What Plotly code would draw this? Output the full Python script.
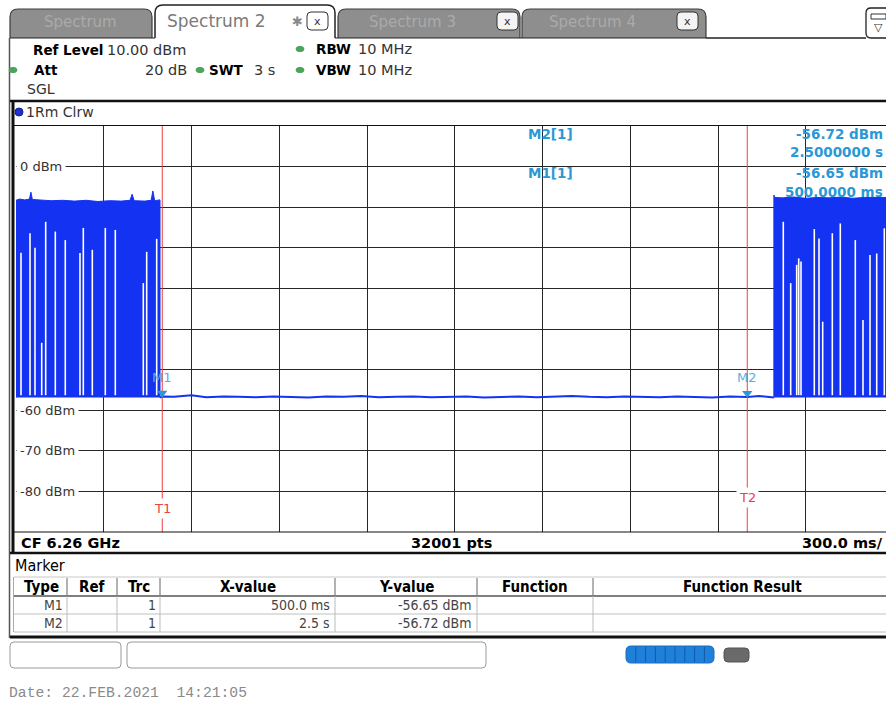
import plotly.graph_objects as go

# ---------------- data ----------------
sweep_div_s = 0.3            # 300.0 ms / div, 10 divisions
ref_level_dbm = 10.0
bottom_level_dbm = -90.0
level_div_db = 10.0

burst1_t = [0.0, 0.012, 0.030, 0.046, 0.051, 0.056, 0.085, 0.120, 0.160, 0.200, 0.240,
            0.280, 0.320, 0.360, 0.390, 0.397, 0.404, 0.440, 0.462, 0.468, 0.474, 0.4923]
burst1_top_dbm = [-8.3, -8.0, -8.2, -8.0, -6.3, -8.1, -8.2, -8.4, -8.3, -8.5, -8.3,
                  -8.6, -8.4, -8.5, -8.3, -6.8, -8.4, -8.5, -8.3, -6.0, -8.4, -8.2]
burst2_t = [2.591, 2.594, 2.620, 2.660, 2.700, 2.740, 2.780, 2.820, 2.860, 2.900, 2.940, 2.975]
burst2_top_dbm = [-7.0, -7.6, -7.7, -7.5, -7.8, -7.6, -7.7, -7.5, -7.8, -7.6, -7.7, -7.6]
burst_floor_dbm = -56.9

gap1_t = [0.0171, 0.0479, 0.0650, 0.0879, 0.1015, 0.1344, 0.1685, 0.2188, 0.2301, 0.2609,
          0.3053, 0.3395, 0.4352, 0.4468, 0.4810]
gap1_top_dbm = [-21.2, -16.4, -20.0, -43.4, -13.6, -16.0, -18.1, -21.3, -15.1, -20.5,
                -15.1, -15.6, -28.7, -21.0, -17.8]
gap2_t = [2.6232, 2.6485, 2.6690, 2.6759, 2.6838, 2.7292, 2.7453, 2.7579, 2.7908, 2.8181,
          2.8694, 2.8957, 2.9197, 2.9426, 2.9685]
gap2_top_dbm = [-13.6, -28.7, -24.2, -22.6, -23.4, -15.4, -17.7, -38.2, -16.4, -14.0,
                -18.1, -37.8, -21.8, -21.4, -15.2]

noise_t = [0.4923, 0.500, 0.540, 0.600, 0.650, 0.710, 0.760, 0.820, 0.880, 0.940,
           1.000, 1.060, 1.120, 1.180, 1.240, 1.300, 1.360, 1.420, 1.480, 1.540,
           1.600, 1.660, 1.720, 1.780, 1.840, 1.900, 1.960, 2.020, 2.080, 2.140,
           2.200, 2.260, 2.320, 2.380, 2.440, 2.500, 2.540, 2.570, 2.591]
noise_dbm = [-56.9, -56.65, -56.7, -56.3, -56.8, -56.6, -56.7, -56.8, -56.6, -56.7,
             -56.9, -56.6, -56.7, -56.5, -56.8, -56.7, -56.6, -56.8, -56.7, -56.6,
             -56.9, -56.7, -56.6, -56.8, -56.7, -56.5, -56.7, -56.8, -56.6, -56.7,
             -56.8, -56.6, -56.7, -56.9, -56.6, -56.72, -56.5, -56.7, -56.9]

marker_names = ["M1", "M2"]
marker_trc = ["1", "1"]
marker_t = [0.5, 2.5]
marker_dbm = [-56.65, -56.72]
marker_x_text = ["500.0 ms", "2.5 s"]
marker_info_time = ["500.0000 ms", "2.5000000 s"]
line_names = ["T1", "T2"]
line_label_dbm = [-84.3, -81.4]

y_label_vals = [0, -60, -70, -80]
y_label_text = ["0 dBm", "-60 dBm", "-70 dBm", "-80 dBm"]

table_headers = ["Type", "Ref", "Trc", "X-value", "Y-value", "Function", "Function Result"]

# ---------------- styling / geometry ----------------
FONT = "DejaVu Sans"
COND = "DejaVu Sans Condensed, DejaVu Sans"
BLUE = "#1432f2"
MBLUE = "#2b98d6"
RED = "#f04040"
GRID = "#262626"

FW, FH = 886, 702
PX0, PY0, PX1, PY1 = 16, 126, 886, 532
div_px = 87.75
x_end = (PX1 - PX0) / div_px * sweep_div_s


def X(x):
    return (x - PX0) / (PX1 - PX0)


def Y(y):
    return (PY1 - y) / (PY1 - PY0)


shapes = []
annotations = []


def rect(x0, y0, x1, y1, fill=None, line=None, lw=1.0, layer="above"):
    shapes.append(dict(type="rect", xref="paper", yref="paper",
                       x0=X(x0), x1=X(x1), y0=Y(y1), y1=Y(y0),
                       fillcolor=fill if fill else "rgba(0,0,0,0)",
                       line=dict(color=line if line else "rgba(0,0,0,0)", width=lw if line else 0),
                       layer=layer))


def seg(x0, y0, x1, y1, color, w, layer="above"):
    shapes.append(dict(type="line", xref="paper", yref="paper",
                       x0=X(x0), x1=X(x1), y0=Y(y0), y1=Y(y1),
                       line=dict(color=color, width=w), layer=layer))


def rrect(x0, y0, x1, y1, r, fill, line, lw=1.0, layer="above"):
    p = (f"M {X(x0 + r)},{Y(y0)} L {X(x1 - r)},{Y(y0)} Q {X(x1)},{Y(y0)} {X(x1)},{Y(y0 + r)} "
         f"L {X(x1)},{Y(y1 - r)} Q {X(x1)},{Y(y1)} {X(x1 - r)},{Y(y1)} "
         f"L {X(x0 + r)},{Y(y1)} Q {X(x0)},{Y(y1)} {X(x0)},{Y(y1 - r)} "
         f"L {X(x0)},{Y(y0 + r)} Q {X(x0)},{Y(y0)} {X(x0 + r)},{Y(y0)} Z")
    shapes.append(dict(type="path", xref="paper", yref="paper", path=p,
                       fillcolor=fill, line=dict(color=line, width=lw), layer=layer))


def tab(x0, y0, x1, y1, r, fill, line, lw=1.2):
    p = (f"M {X(x0)},{Y(y1)} L {X(x0)},{Y(y0 + r)} Q {X(x0)},{Y(y0)} {X(x0 + r)},{Y(y0)} "
         f"L {X(x1 - r)},{Y(y0)} Q {X(x1)},{Y(y0)} {X(x1)},{Y(y0 + r)} L {X(x1)},{Y(y1)}")
    shapes.append(dict(type="path", xref="paper", yref="paper", path=p,
                       fillcolor=fill, line=dict(color=line, width=lw), layer="above"))


def dot(cx, cy, rx, ry, fill, line=None):
    shapes.append(dict(type="circle", xref="paper", yref="paper",
                       x0=X(cx - rx), x1=X(cx + rx), y0=Y(cy + ry), y1=Y(cy - ry),
                       fillcolor=fill, line=dict(color=line if line else fill, width=1), layer="above"))


def txt(x, y, s, size=13, color="#000", bold=False, anchor="left", family=FONT, bg=None):
    annotations.append(dict(xref="paper", yref="paper", x=X(x), y=Y(y),
                            text=f"<b>{s}</b>" if bold else s, showarrow=False,
                            xanchor=anchor, yanchor="middle",
                            font=dict(size=size, color=color, family=family),
                            bgcolor=bg, borderpad=0))


# ---------------- traces ----------------
fig = go.Figure()

fig.add_trace(go.Scatter(
    x=[burst1_t[0]] + burst1_t + [burst1_t[-1]],
    y=[burst_floor_dbm] + burst1_top_dbm + [burst_floor_dbm],
    mode="lines", fill="toself", fillcolor=BLUE, line=dict(color=BLUE, width=1),
    hoverinfo="skip", showlegend=False))
fig.add_trace(go.Scatter(
    x=[burst2_t[0]] + burst2_t + [burst2_t[-1]],
    y=[burst_floor_dbm] + burst2_top_dbm + [burst_floor_dbm],
    mode="lines", fill="toself", fillcolor=BLUE, line=dict(color=BLUE, width=1),
    hoverinfo="skip", showlegend=False))

gx, gy = [], []
for t, top in list(zip(gap1_t, gap1_top_dbm)) + list(zip(gap2_t, gap2_top_dbm)):
    gx += [t, t, None]
    gy += [burst_floor_dbm + 0.6, top, None]
fig.add_trace(go.Scatter(x=gx, y=gy, mode="lines", line=dict(color="white", width=1.6),
                         hoverinfo="skip", showlegend=False))

fig.add_trace(go.Scatter(x=noise_t, y=noise_dbm, mode="lines",
                         line=dict(color=BLUE, width=2), hoverinfo="skip", showlegend=False))

for t in marker_t:
    fig.add_trace(go.Scatter(x=[t, t], y=[bottom_level_dbm, ref_level_dbm], mode="lines",
                             line=dict(color=RED, width=1), hoverinfo="skip", showlegend=False))

fig.add_trace(go.Scatter(x=marker_t, y=[d + 0.9 for d in marker_dbm], mode="markers",
                         marker=dict(symbol="triangle-down", size=9, color=MBLUE),
                         hoverinfo="skip", showlegend=False))

for name, t, d in zip(marker_names, marker_t, marker_dbm):
    annotations.append(dict(x=t, y=d, xref="x", yref="y", text=name, showarrow=False,
                            yshift=19, font=dict(size=13, color="#5ab0e0", family=FONT)))

for name, t, d in zip(line_names, marker_t, line_label_dbm):
    annotations.append(dict(x=t, y=d, xref="x", yref="y", text=name, showarrow=False,
                            font=dict(size=13, color=RED, family=FONT), bgcolor="white",
                            borderpad=2))

for v, s in zip(y_label_vals, y_label_text):
    annotations.append(dict(x=X(15.5), y=v, xref="paper", yref="y", text=s, showarrow=False,
                            xanchor="left", yanchor="middle", bgcolor="white", borderpad=3,
                            font=dict(size=13, color="#333", family=FONT)))

# marker info area (hides grid)
rect(523, 126.5, 900, 203, fill="white", layer="between")
info_rows = [(134, f"{marker_names[1]}[{marker_trc[1]}]", f"{marker_dbm[1]:.2f} dBm"),
             (152, None, marker_info_time[1]),
             (173, f"{marker_names[0]}[{marker_trc[0]}]", f"{marker_dbm[0]:.2f} dBm"),
             (192, None, marker_info_time[0])]
for yy, lab, val in info_rows:
    if lab:
        txt(527, yy, lab, size=13.5, color=MBLUE, bold=True)
    txt(884, yy, val, size=13.5, color=MBLUE, anchor="right", bold=True)

# ---------------- instrument frame ----------------
# tabs
tab(10, 9, 152, 38, 8, "#8e8e8e", "#3c3c3c")
tab(338, 9, 520, 38, 8, "#8e8e8e", "#3c3c3c")
tab(522, 9, 706, 38, 8, "#8e8e8e", "#3c3c3c")
tab(155, 5, 335, 38, 8, "white", "#222", 1.5)
seg(706, 38, 866, 38, "#222", 1.5)
seg(10, 38, 155, 38, "#222", 1.2)
seg(335, 38, 706, 38, "#222", 1.2)
txt(80, 22, "Spectrum", size=15, color="#aaaaaa", anchor="center")
txt(412, 22, "Spectrum 3", size=15, color="#aaaaaa", anchor="center")
txt(592, 22, "Spectrum 4", size=15, color="#aaaaaa", anchor="center")
txt(166, 21, "Spectrum 2", size=17, color="#7a7a7a")
txt(297, 21, "✱", size=13, color="#8a8a8a", anchor="center")
for bx in (307, 497, 677):
    rrect(bx, 12, bx + 21, 30, 4, "#f4f4f4" if bx != 307 else "white", "#333", 1)
    txt(bx + 10.5, 21, "x", size=11, color="#333", anchor="center")
rrect(866, 8, 896, 38, 5, "white", "#222", 1.3)
rect(871, 14, 886, 19, fill="white", line="#333", lw=1)
txt(878, 28, "▽", size=11, color="#333", anchor="center")

# panel borders
seg(9.5, 38, 9.5, 638, "#555", 1.5)
seg(10, 101, 900, 101, "#111", 2.5)
seg(13, 101, 13, 553, "#111", 3)
seg(14, 125.5, 900, 125.5, "#111", 1.2)
seg(14, 532, 900, 532, "#111", 1.2)
seg(10, 553, 900, 553, "#111", 2.5)
seg(10, 637, 900, 637, "#111", 3)

# header
HB, HN = 13.5, 14.5
txt(32, 50, "Ref Level", size=HB, bold=True)
txt(106, 50, "10.00 dBm", size=HN, color="#333")
dot(300, 49, 4, 2.6, "#4aa55a")
txt(315, 49, "RBW", size=HB, bold=True)
txt(357, 49, "10 MHz", size=HN, color="#333")
dot(13, 70, 4, 2.6, "#4aa55a")
txt(33, 70, "Att", size=HB, bold=True)
txt(188, 70, "20 dB", size=HN, color="#333", anchor="right")
dot(200, 70, 4, 2.6, "#4aa55a")
txt(208, 70, "SWT", size=HB, bold=True)
txt(253, 70, "3 s", size=HN, color="#333")
dot(300, 70, 4, 2.6, "#4aa55a")
txt(315, 70, "VBW", size=HB, bold=True)
txt(357, 70, "10 MHz", size=HN, color="#333")
txt(26, 89, "SGL", size=14, color="#333")
dot(19, 112, 4, 4, "#1e2fd6", "#102080")
txt(25, 112, "1Rm Clrw", size=14, color="#333")

# bottom bar of diagram
txt(20, 543, "CF 6.26 GHz", size=14.5, bold=True)
txt(451, 543, "32001 pts", size=14.5, bold=True, anchor="center")
txt(884, 543, "300.0 ms/", size=14.5, bold=True, anchor="right")

# marker table
txt(14, 565, "Marker", size=16, family=COND)
col_lines = [67, 117, 160, 335, 477, 593]
col_centers = [41, 92, 138.5, 247.5, 406, 535, 742]
seg(14, 577, 900, 577, "#c8c8c8", 1)
seg(14, 596, 900, 596, "#555", 1.5)
seg(14, 614, 900, 614, "#c0c0c0", 1)
seg(14, 632, 900, 632, "#c0c0c0", 1)
seg(13.5, 577, 13.5, 632, "#aaa", 1)
for cx in col_lines:
    seg(cx, 578, cx, 596, "#666", 1)
    seg(cx, 596, cx, 632, "#bbb", 1)
for cx, h in zip(col_centers, table_headers):
    txt(cx, 587, h, size=15, bold=True, anchor="center", family=COND)
for i, yy in enumerate([605, 623]):
    txt(64, yy, marker_names[i], size=14, color="#444", anchor="right", family=COND)
    txt(157, yy, marker_trc[i], size=14, color="#444", anchor="right", family=COND)
    txt(331, yy, marker_x_text[i], size=14, color="#444", anchor="right", family=COND)
    txt(473, yy, f"{marker_dbm[i]:.2f} dBm", size=14, color="#444", anchor="right", family=COND)

# status area
rrect(10, 642, 121, 668, 4, "white", "#9a9a9a", 1)
rrect(127, 642, 486, 668, 4, "white", "#9a9a9a", 1)
rrect(626, 646, 714, 663, 5, "#1f80da", "#1a6cc0", 1)
for k in range(1, 9):
    seg(626 + k * 9.8, 647, 626 + k * 9.8, 662, "#0f5aa8", 1)
rrect(724, 648, 749, 662, 4, "#6a6a6a", "#555", 1)
txt(8, 693, "Date: 22.FEB.2021  14:21:05", size=14.7, color="#8a8a8a", family="Liberation Mono")

fig.update_layout(
    width=FW, height=FH,
    margin=dict(l=PX0, r=FW - PX1, t=PY0, b=FH - PY1, pad=0),
    paper_bgcolor="white", plot_bgcolor="white",
    showlegend=False,
    xaxis=dict(range=[0, x_end], tick0=0, dtick=sweep_div_s, showgrid=True,
               gridcolor=GRID, gridwidth=1.2, zeroline=False, showticklabels=False,
               ticks="", showline=False, fixedrange=True),
    yaxis=dict(range=[bottom_level_dbm, ref_level_dbm], tick0=0, dtick=level_div_db,
               showgrid=True, gridcolor=GRID, gridwidth=1.2, zeroline=False,
               showticklabels=False, ticks="", showline=False, fixedrange=True),
    shapes=shapes, annotations=annotations,
)

fig.write_html("out.html", config={"displayModeBar": False},
               post_script="document.body.style.margin='0';")
